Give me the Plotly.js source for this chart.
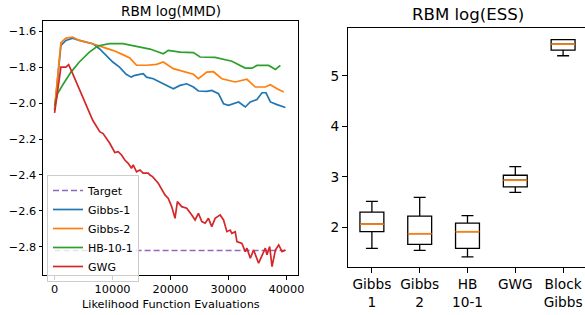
<!DOCTYPE html>
<html>
<head>
<meta charset="utf-8">
<script src="https://cdn.plot.ly/plotly-3.0.1.min.js"></script>
<style>html,body{margin:0;padding:0;overflow:hidden;background:#fff;}</style>
</head>
<body>
<div id="chart" style="width:590px;height:315px;"></div>
<script>
// ---- Left panel: RBM log(MMD) ----
const gibbs1X = [0,1090,1960,3120,4270,5420,6580,7740,8890,10040,11200,12350,13220,13850,15290,15870,17030,18760,20490,21650,22800,23950,24820,26260,27120,28280,29150,30010,31750,32900,33770,34920,35790,36480,37230,38380,39830];
const gibbs1Y = [-2.04,-1.68,-1.652,-1.639,-1.652,-1.661,-1.67,-1.698,-1.735,-1.772,-1.80,-1.84,-1.856,-1.846,-1.837,-1.856,-1.865,-1.893,-1.921,-1.902,-1.893,-1.911,-1.933,-1.935,-1.93,-1.948,-2.004,-2.013,-1.994,-2.022,-1.994,-1.98,-1.943,-1.943,-1.994,-2.009,-2.025];

const gibbs2X = [0,1090,1960,3120,4270,5420,7150,8310,10040,11780,12990,14140,15870,17600,18760,20490,21650,22800,23950,24820,26260,27410,28860,31170,33190,34630,36360,37230,38380,39540];
const gibbs2Y = [-2.03,-1.665,-1.639,-1.633,-1.652,-1.661,-1.676,-1.689,-1.707,-1.731,-1.75,-1.79,-1.79,-1.785,-1.772,-1.809,-1.82,-1.828,-1.84,-1.865,-1.828,-1.826,-1.865,-1.883,-1.868,-1.911,-1.911,-1.898,-1.921,-1.939];

const hbX = [0,520,1390,2830,4270,6000,7450,9470,11780,13220,14720,16450,18760,19620,21650,23950,25100,27700,30590,32900,34060,34920,36940,38100,38960];
const hbY = [-2.015,-1.948,-1.90,-1.828,-1.772,-1.717,-1.683,-1.67,-1.67,-1.68,-1.69,-1.70,-1.726,-1.707,-1.717,-1.72,-1.744,-1.746,-1.768,-1.806,-1.806,-1.791,-1.791,-1.813,-1.791];

const gwgX = [0,1090,1960,2420,3120,4270,5420,6580,7790,8370,9520,10390,10970,11550,12120,12700,13270,13560,14140,14720,15290,16160,16450,16900,17890,18470,19050,19620,20200,20780,21190,21940,22800,23670,24240,24820,25400,25970,26550,27120,27700,28570,29150,29730,30300,30590,31170,31460,32320,32900,33190,33770,34340,35200,35790,36360,36650,37110,37520,38100,38670,39250,39830];
const gwgY = [-2.055,-1.80,-1.80,-1.787,-1.837,-1.92,-2.013,-2.096,-2.159,-2.17,-2.224,-2.275,-2.27,-2.289,-2.317,-2.335,-2.363,-2.344,-2.382,-2.372,-2.39,-2.39,-2.40,-2.409,-2.446,-2.483,-2.511,-2.53,-2.576,-2.641,-2.548,-2.576,-2.585,-2.622,-2.65,-2.613,-2.659,-2.668,-2.641,-2.687,-2.641,-2.622,-2.65,-2.715,-2.706,-2.724,-2.715,-2.77,-2.78,-2.826,-2.807,-2.863,-2.817,-2.89,-2.844,-2.807,-2.844,-2.798,-2.909,-2.817,-2.789,-2.826,-2.817];

const targetX = [0, 40000];
const targetValue = -2.82;

const mmdTicks = [-1.6,-1.8,-2.0,-2.2,-2.4,-2.6,-2.8];
const evalTicks = [0,10000,20000,30000,40000];

// ---- Right panel: RBM log(ESS) ----
const essLabels = ["Gibbs<br>1","Gibbs<br>2","HB<br>10-1","GWG","Block<br>Gibbs"];
const essLower  = [1.58, 1.54, 1.41, 2.69, 5.40];
const essQ1     = [1.91, 1.66, 1.58, 2.80, 5.51];
const essMedian = [2.06, 1.87, 1.91, 2.93, 5.63];
const essQ3     = [2.30, 2.22, 2.08, 3.03, 5.72];
const essUpper  = [2.51, 2.59, 2.23, 3.20, 5.72];

const C = {blue:'#1f77b4', orange:'#ff7f0e', green:'#2ca02c', red:'#d62728', purple:'#9467bd'};
const W = 590, H = 315;
const px = v => v / W, py = v => 1 - v / H;

const positions = essLabels.map((_, i) => i + 1);
const medX = [], medY = [];
positions.forEach((p, i) => { medX.push(p - 0.25, p + 0.25, null); medY.push(essMedian[i], essMedian[i], null); });

const traces = [
  {x: targetX, y: targetX.map(() => targetValue), name: 'Target', mode: 'lines',
   line: {color: C.purple, width: 1.6, dash: '6px,3px'}, xaxis: 'x', yaxis: 'y'},
  {x: gibbs1X, y: gibbs1Y, name: 'Gibbs-1', mode: 'lines', line: {color: C.blue, width: 1.7}, xaxis: 'x', yaxis: 'y'},
  {x: gibbs2X, y: gibbs2Y, name: 'Gibbs-2', mode: 'lines', line: {color: C.orange, width: 1.7}, xaxis: 'x', yaxis: 'y'},
  {x: hbX, y: hbY, name: 'HB-10-1', mode: 'lines', line: {color: C.green, width: 1.7}, xaxis: 'x', yaxis: 'y'},
  {x: gwgX, y: gwgY, name: 'GWG', mode: 'lines', line: {color: C.red, width: 1.7}, xaxis: 'x', yaxis: 'y'},
  {type: 'box', x: positions, q1: essQ1, median: essMedian, q3: essQ3,
   lowerfence: essLower, upperfence: essUpper, width: 0.5, whiskerwidth: 0.5,
   boxpoints: false, line: {color: '#000', width: 1.3}, fillcolor: 'rgba(0,0,0,0)',
   showlegend: false, xaxis: 'x2', yaxis: 'y2', hoverinfo: 'skip'},
  {x: medX, y: medY, mode: 'lines', line: {color: C.orange, width: 1.6},
   showlegend: false, xaxis: 'x2', yaxis: 'y2', hoverinfo: 'skip'}
];

const axBase = {showgrid: false, zeroline: false, showline: true, mirror: true,
  linecolor: '#000', linewidth: 1, ticks: 'outside', tickcolor: '#000', tickwidth: 1};

const layout = {
  width: W, height: H,
  margin: {l: 0, r: 0, t: 0, b: 0},
  paper_bgcolor: '#fff', plot_bgcolor: '#fff',
  font: {family: 'DejaVu Sans', color: '#000'},
  showlegend: true,
  legend: {x: px(47), y: py(175), xanchor: 'left', yanchor: 'top',
    bgcolor: 'rgba(255,255,255,0.8)', bordercolor: '#cccccc', borderwidth: 1,
    font: {size: 11, family: 'DejaVu Sans'}, tracegroupgap: 0, itemwidth: 30},
  xaxis: Object.assign({}, axBase, {domain: [px(43), px(298)], range: [-2000, 42000],
    tickvals: evalTicks, ticktext: evalTicks.map(String), ticklen: 3.5,
    tickfont: {size: 11.3}, anchor: 'y'}),
  yaxis: Object.assign({}, axBase, {domain: [py(275), py(21)], range: [-2.956, -1.544],
    tickvals: mmdTicks, tickformat: '.1f', ticklen: 3.5,
    tickfont: {size: 11.3}, anchor: 'x'}),
  xaxis2: Object.assign({}, axBase, {domain: [px(348), px(587)], range: [0.5, 5.5],
    tickvals: positions, ticktext: essLabels, ticklen: 5,
    tickfont: {size: 13.7}, anchor: 'y2'}),
  yaxis2: Object.assign({}, axBase, {domain: [py(267), py(28)], range: [1.21, 5.95],
    tickvals: [2,3,4,5], ticklen: 5, tickfont: {size: 13.7}, anchor: 'x2'}),
  annotations: [
    {text: 'RBM log(MMD)', xref: 'paper', yref: 'paper', x: px(170.5), y: py(11),
     xanchor: 'center', yanchor: 'middle', showarrow: false, font: {size: 13.6}},
    {text: 'Likelihood Function Evaluations', xref: 'paper', yref: 'paper', x: px(170.5), y: py(304),
     xanchor: 'center', yanchor: 'middle', showarrow: false, font: {size: 11.3}},
    {text: 'RBM log(ESS)', xref: 'paper', yref: 'paper', x: px(467.5), y: py(14.5),
     xanchor: 'center', yanchor: 'middle', showarrow: false, font: {size: 16.6}}
  ]
};

Plotly.newPlot('chart', traces, layout, {displayModeBar: false, staticPlot: true});
</script>
</body>
</html>
